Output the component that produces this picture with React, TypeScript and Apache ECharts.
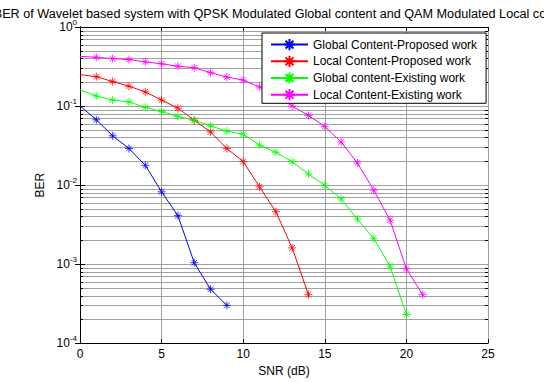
import React, { useEffect, useRef } from "react";
import * as echarts from "echarts";

const titleText =
  "BER of Wavelet based system with QPSK Modulated Global content and QAM Modulated Local content";
const seriesNames = [
  "Global Content-Proposed work",
  "Local Content-Proposed work",
  "Global content-Existing work",
  "Local Content-Existing work",
];
const seriesColors = ["#0000ff", "#ff0000", "#00ff00", "#ff00ff"];
const snr = [0, 1, 2, 3, 4, 5, 6, 7, 8, 9, 10, 11, 12, 13, 14, 15, 16, 17, 18, 19, 20, 21];
const globalProposed = [0.1, 0.067, 0.042, 0.029, 0.0178, 0.0082, 0.0041, 0.00104, 0.00048, 0.0003];
const localProposed = [
  0.25, 0.235, 0.204, 0.178, 0.151, 0.119, 0.094, 0.066, 0.047, 0.029, 0.0198, 0.0095, 0.0046,
  0.0016, 0.00041,
];
const globalExisting = [
  0.16, 0.134, 0.119, 0.113, 0.096, 0.085, 0.074, 0.066, 0.056, 0.048, 0.044, 0.032, 0.026,
  0.0197, 0.0138, 0.0099, 0.0067, 0.0037, 0.0021, 0.00094, 0.00023,
];
const localExisting = [
  0.425, 0.414, 0.398, 0.387, 0.362, 0.342, 0.319, 0.305, 0.264, 0.232, 0.213, 0.174, 0.135, 0.1,
  0.076, 0.055, 0.035, 0.019, 0.0086, 0.0036, 0.00087, 0.00041,
];
const xTicks = [0, 5, 10, 15, 20, 25];
const minorY = [
  0.0002, 0.0003, 0.0004, 0.0005, 0.0006, 0.0007, 0.0008, 0.0009, 0.002, 0.003, 0.004, 0.005,
  0.006, 0.007, 0.008, 0.009, 0.02, 0.03, 0.04, 0.05, 0.06, 0.07, 0.08, 0.09, 0.2, 0.3, 0.4, 0.5,
  0.6, 0.7, 0.8, 0.9,
];

const FONT = "'Liberation Sans', Arial, sans-serif";
const STAR = "path://M5 0L5 10M0 5L10 5M1.5 1.5L8.5 8.5M1.5 8.5L8.5 1.5";
const GRID_COLOR = "#a0a0a0";

export default function App() {
  const ref = useRef<HTMLDivElement>(null);
  useEffect(() => {
    if (!ref.current) return;
    const chart = echarts.init(ref.current, undefined, { renderer: "svg" });
    const allData = [globalProposed, localProposed, globalExisting, localExisting];
    const lineSeries = allData.map((vals, i) => ({
      name: seriesNames[i],
      type: "line",
      z: 3,
      data: vals.map((v, k) =>
        k === 0 ? { value: [snr[k], v], symbol: "none" } : { value: [snr[k], v] }
      ),
      symbol: STAR,
      symbolSize: 8,
      showAllSymbol: true,
      lineStyle: { color: seriesColors[i], width: 1 },
      itemStyle: { color: seriesColors[i], borderColor: seriesColors[i], borderWidth: 0.8 },
      emphasis: { disabled: true },
    }));
    const minorSeries = {
      type: "custom",
      z: 1,
      silent: true,
      data: minorY.map((v) => [v]),
      renderItem: (params: any, api: any) => {
        const v = api.value(0);
        const p0 = api.coord([xTicks[0], v]);
        const p1 = api.coord([xTicks[xTicks.length - 1], v]);
        const y = Math.round(p0[1]) + 0.5;
        return {
          type: "group",
          children: [
            {
              type: "line",
              shape: { x1: p0[0], y1: y, x2: p1[0], y2: y },
              style: { stroke: GRID_COLOR, lineWidth: 1 },
            },
            {
              type: "line",
              shape: { x1: p0[0], y1: y, x2: p0[0] + 3, y2: y },
              style: { stroke: "#000", lineWidth: 1 },
            },
            {
              type: "line",
              shape: { x1: p1[0] - 3, y1: y, x2: p1[0], y2: y },
              style: { stroke: "#000", lineWidth: 1 },
            },
          ],
        };
      },
    };
    const yLabel = (value: number) => {
      const e = Math.round(Math.log10(value));
      return `{a|10}{b|${e}}`;
    };
    chart.setOption({
      animation: false,
      textStyle: { fontFamily: FONT, color: "#000" },
      grid: { left: 80, top: 27, right: 56, bottom: 35, show: false },
      graphic: [
        {
          type: "text",
          x: 284,
          y: 14,
          z: 10,
          style: {
            text: titleText,
            align: "center",
            verticalAlign: "middle",
            fontSize: 12.65,
            fontFamily: FONT,
            fill: "#000",
          },
        },
      ],
      legend: {
        orient: "vertical",
        left: 262,
        top: 33,
        padding: [5, 9, 2, 8],
        itemGap: 3.5,
        itemWidth: 37,
        itemHeight: 14,
        backgroundColor: "#fff",
        borderColor: "#000",
        borderWidth: 1,
        borderRadius: 0,
        textStyle: { fontSize: 12, color: "#000", fontFamily: FONT },
        data: seriesNames,
        selectedMode: false,
      },
      xAxis: [
        {
          type: "value",
          min: xTicks[0],
          max: xTicks[xTicks.length - 1],
          interval: 5,
          name: "SNR (dB)",
          nameLocation: "middle",
          nameGap: 19,
          nameTextStyle: { fontSize: 12, color: "#000", fontFamily: FONT },
          axisLine: { show: true, lineStyle: { color: "#000", width: 1 } },
          axisTick: { show: true, inside: true, length: 4, lineStyle: { color: "#000" } },
          axisLabel: { fontSize: 12, color: "#000", margin: 5, fontFamily: FONT },
          splitLine: { show: true, lineStyle: { color: GRID_COLOR, width: 1 } },
        },
        {
          type: "value",
          position: "top",
          min: xTicks[0],
          max: xTicks[xTicks.length - 1],
          interval: 5,
          axisLine: { show: true, lineStyle: { color: "#000", width: 1 } },
          axisTick: { show: true, inside: true, length: 4, lineStyle: { color: "#000" } },
          axisLabel: { show: false },
          splitLine: { show: false },
        },
      ],
      yAxis: [
        {
          type: "log",
          logBase: 10,
          min: 0.0001,
          max: 1,
          name: "BER",
          nameLocation: "middle",
          nameGap: 27,
          nameTextStyle: { fontSize: 12, color: "#000", fontFamily: FONT },
          axisLine: { show: true, lineStyle: { color: "#000", width: 1 } },
          axisTick: { show: true, inside: true, length: 5, lineStyle: { color: "#000" } },
          axisLabel: {
            margin: 3,
            formatter: yLabel,
            showMinLabel: true,
            showMaxLabel: true,
            rich: {
              a: { fontSize: 12, color: "#000", fontFamily: FONT },
              b: { fontSize: 8, color: "#000", fontFamily: FONT, padding: [0, 0, 9, 0] },
            },
          },
          splitLine: { show: true, lineStyle: { color: GRID_COLOR, width: 1 } },
        },
        {
          type: "log",
          logBase: 10,
          min: 0.0001,
          max: 1,
          position: "right",
          axisLine: { show: true, lineStyle: { color: "#000", width: 1 } },
          axisTick: { show: true, inside: true, length: 5, lineStyle: { color: "#000" } },
          axisLabel: { show: false },
          splitLine: { show: false },
        },
      ],
      series: [minorSeries, ...lineSeries],
    });
    return () => chart.dispose();
  }, []);
  return (
    <div
      ref={ref}
      style={{ position: "absolute", left: 0, top: 0, width: 544, height: 382, background: "#fff" }}
    />
  );
}
